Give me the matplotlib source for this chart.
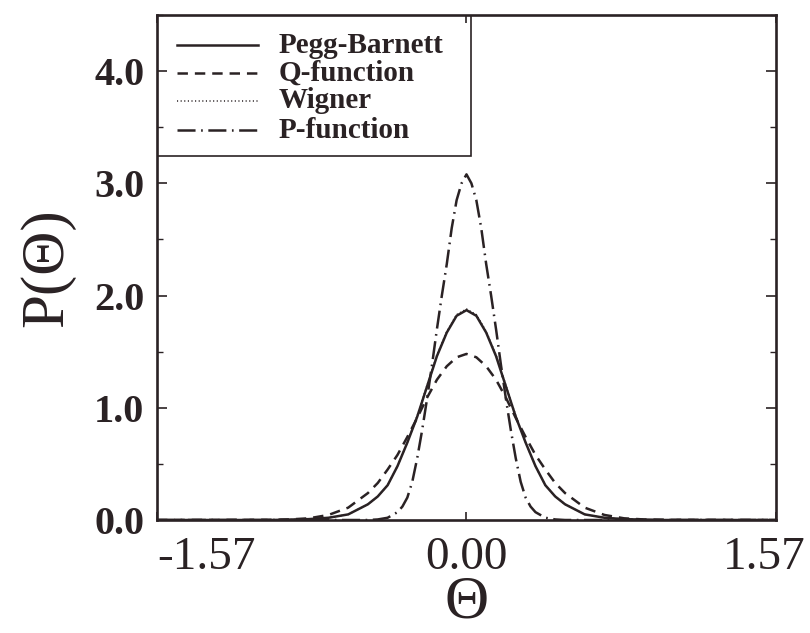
import matplotlib
matplotlib.use("Agg")
import matplotlib.pyplot as plt
from matplotlib.lines import Line2D
from matplotlib.patches import Rectangle

plt.rcParams['lines.scale_dashes'] = False
plt.rcParams['font.family'] = ['Liberation Serif', 'DejaVu Serif']

# ---------------- data ----------------
theta_pb = [-1.57, -1.0, -0.9, -0.8, -0.7, -0.6, -0.5, -0.45, -0.4, -0.35, -0.3, -0.25, -0.2,
            -0.15, -0.1, -0.05, 0.0, 0.05, 0.1, 0.15, 0.2, 0.25, 0.3, 0.35, 0.4, 0.45, 0.5,
            0.6, 0.7, 0.8, 0.9, 1.0, 1.57]
pegg_barnett = [0.0, 0.0, 0.003, 0.008, 0.02, 0.05, 0.14, 0.21, 0.31, 0.48, 0.69, 0.92, 1.19,
                1.46, 1.67, 1.82, 1.87, 1.82, 1.67, 1.46, 1.19, 0.92, 0.69, 0.48, 0.31, 0.21, 0.14,
                0.05, 0.02, 0.008, 0.003, 0.0, 0.0]
wigner = [0.0, 0.0, 0.003, 0.008, 0.02, 0.05, 0.14, 0.21, 0.31, 0.48, 0.69, 0.93, 1.20,
          1.47, 1.68, 1.83, 1.88, 1.83, 1.68, 1.47, 1.20, 0.93, 0.69, 0.48, 0.31, 0.21, 0.14,
          0.05, 0.02, 0.008, 0.003, 0.0, 0.0]
q_function = [0.0, 0.002, 0.005, 0.015, 0.045, 0.11, 0.24, 0.33, 0.45, 0.58, 0.74, 0.91, 1.09,
              1.25, 1.37, 1.45, 1.48, 1.45, 1.37, 1.25, 1.09, 0.91, 0.74, 0.58, 0.45, 0.33, 0.24,
              0.11, 0.045, 0.015, 0.005, 0.002, 0.0]

theta_p = [-1.57, -0.5, -0.45, -0.4, -0.35, -0.325, -0.3, -0.275, -0.25, -0.225, -0.2, -0.175,
           -0.15, -0.125, -0.1, -0.075, -0.05, -0.025, 0.0, 0.025, 0.05, 0.075, 0.1, 0.125,
           0.15, 0.175, 0.2, 0.225, 0.25, 0.275, 0.3, 0.325, 0.35, 0.4, 0.45, 0.5, 1.57]
p_function = [0.0, 0.0, 0.005, 0.02, 0.07, 0.12, 0.20, 0.34, 0.55, 0.80, 1.08, 1.38,
              1.70, 2.00, 2.28, 2.60, 2.85, 3.00, 3.08, 3.00, 2.85, 2.60, 2.28, 2.00,
              1.70, 1.38, 1.08, 0.80, 0.55, 0.34, 0.20, 0.12, 0.07, 0.02, 0.005, 0.0, 0.0]

series_labels = ['Pegg-Barnett', 'Q-function', 'Wigner', 'P-function']
xticks = [-1.57, 0.0, 1.57]
xtick_labels = ['-1.57', '0.00', '1.57']
yticks = [0.0, 1.0, 2.0, 3.0, 4.0]
ytick_labels = ['0.0', '1.0', '2.0', '3.0', '4.0']

# ---------------- figure ----------------
ink = '#2a2224'
fig = plt.figure(figsize=(8.1, 6.33), dpi=100)
ax = fig.add_axes([0.1938, 0.1785, 0.7642, 0.7978])

styles = [
    dict(color=ink, lw=1.8, linestyle='-'),
    dict(color=ink, lw=1.8, linestyle=(0, (7.5, 5))),
    dict(color=ink, lw=1.1, linestyle=(0, (0.8, 1.8))),
    dict(color=ink, lw=1.8, linestyle=(0, (13, 4, 1.2, 4))),
]
ax.plot(theta_pb, pegg_barnett, **styles[0])
ax.plot(theta_pb, q_function, **styles[1])
ax.plot(theta_pb, wigner, **styles[2])
ax.plot(theta_p, p_function, **styles[3])

ax.set_xlim(-1.57, 1.57)
ax.set_ylim(0, 4.5)

for s in ax.spines.values():
    s.set_linewidth(1.9)
    s.set_color(ink)

# y ticks: major at integers, minor at halves, both sides, inward
ax.set_yticks(yticks)
ax.set_yticklabels(ytick_labels, fontsize=29, fontweight='bold', color=ink)
ax.set_yticks([0.5, 1.5, 2.5, 3.5, 4.5], minor=True)
ax.tick_params(axis='y', which='major', direction='in', length=7, width=1.2,
               left=True, right=True, pad=9, colors=ink)
ax.tick_params(axis='y', which='minor', direction='in', length=4, width=1.0,
               left=True, right=True, colors=ink)

# x ticks: labels placed as offset annotations
ax.set_xticks(xticks)
ax.set_xticklabels([])
ax.tick_params(axis='x', which='major', direction='in', length=6, width=1.2,
               bottom=True, top=True, colors=ink)
offsets = [(0, 'left'), (0, 'center'), (21, 'right')]
for t, lab, (dx, ha) in zip(xticks, xtick_labels, offsets):
    ax.annotate(lab, xy=(t, 0), xycoords=('data', 'axes fraction'),
                xytext=(dx, -12), textcoords='offset points', ha=ha, va='top',
                fontsize=34, color=ink, annotation_clip=False)

ax.set_xlabel('Θ', fontsize=44, color=ink, labelpad=36)
ax.set_ylabel('P(Θ)', fontsize=44, color=ink, labelpad=14)

# custom legend box in the upper left
box = Rectangle((0.0, 0.72), 0.508, 0.28, transform=ax.transAxes,
                fill=False, lw=1.2, edgecolor=ink)
ax.add_patch(box)
row_y = [0.940, 0.885, 0.830, 0.772]
for (st, lab, yy) in zip(styles, series_labels, row_y):
    ax.add_line(Line2D([0.032, 0.163], [yy, yy], transform=ax.transAxes, **st))
    ax.text(0.196, yy, lab, transform=ax.transAxes, fontsize=21,
            fontweight='bold', va='center', ha='left', color=ink)

fig.savefig('out.png', dpi=100)
